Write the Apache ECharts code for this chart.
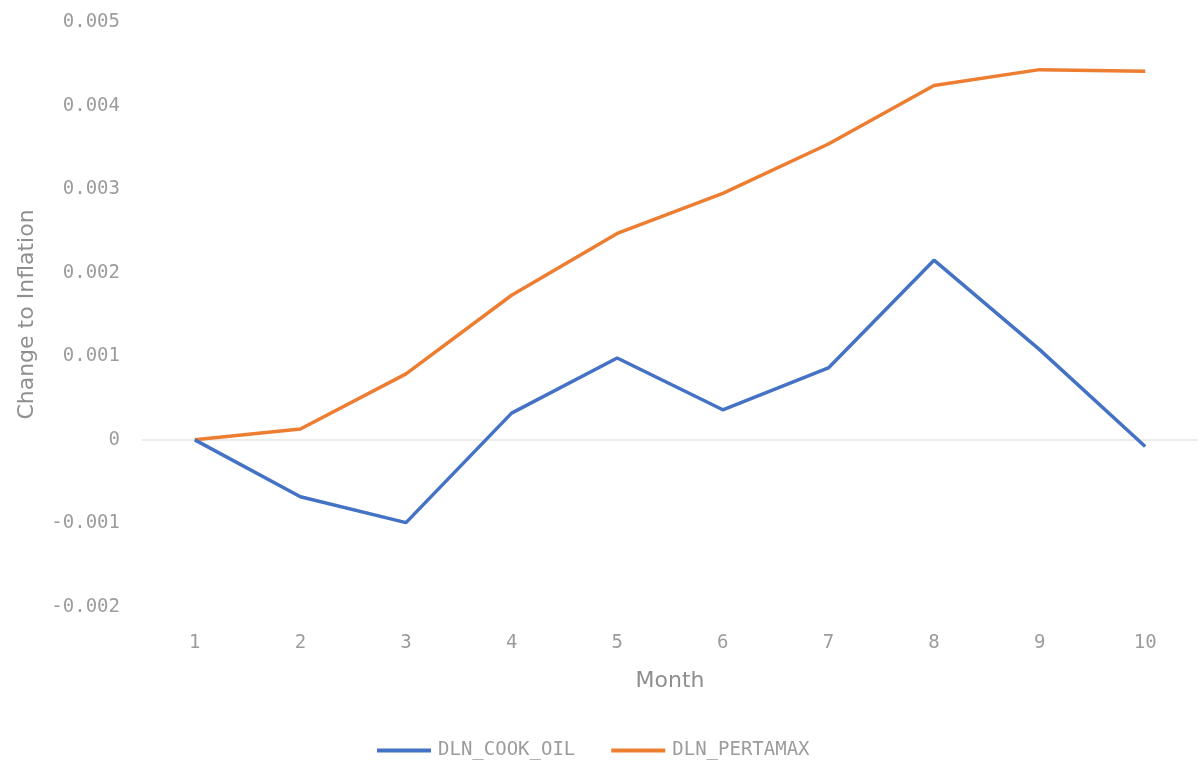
<!DOCTYPE html>
<html>
<head>
<meta charset="utf-8">
<script src="https://cdn.jsdelivr.net/npm/echarts@6/dist/echarts.min.js"></script>
<style>
  html, body { margin: 0; padding: 0; background: #fff; }
  #chart { width: 1204px; height: 771px; }
</style>
</head>
<body>
<div id="chart"></div>
<script>
// Months on the horizontal axis
const months = ['1', '2', '3', '4', '5', '6', '7', '8', '9', '10'];

// Response of inflation to each price shock
const cookOil = [0, -0.00068, -0.00099, 0.00032, 0.00098, 0.00036, 0.00086, 0.00215, 0.00108, -0.00008];
const pertamax = [0, 0.00013, 0.00079, 0.00173, 0.00247, 0.00295, 0.00354, 0.00424, 0.00443, 0.00441];

const seriesNames = ['DLN_COOK_OIL', 'DLN_PERTAMAX'];

const monoFont = '"DejaVu Sans Mono", monospace';
const titleFont = '"DejaVu Sans", sans-serif';
const textGray = '#9c9c9c';
const titleGray = '#8f8f8f';

const chart = echarts.init(document.getElementById('chart'), null, { renderer: 'canvas' });

chart.setOption({
  animation: false,
  backgroundColor: '#ffffff',
  grid: { left: 142, right: 6, top: 22, bottom: 164 },
  legend: {
    bottom: 6,
    left: 372,
    itemWidth: 54,
    itemHeight: 4,
    itemGap: 36,
    icon: 'rect',
    textStyle: { color: textGray, fontSize: 19, fontFamily: monoFont, padding: [0, 0, 0, 2] },
    data: seriesNames
  },
  xAxis: {
    type: 'category',
    data: months,
    boundaryGap: true,
    name: 'Month',
    nameLocation: 'middle',
    nameGap: 63,
    nameTextStyle: { color: titleGray, fontSize: 22, fontFamily: titleFont },
    axisLine: { show: false, onZero: false },
    axisTick: { show: false },
    axisLabel: { color: textGray, fontSize: 19, fontFamily: monoFont, margin: 27 },
    splitLine: { show: false }
  },
  yAxis: {
    type: 'value',
    min: -0.002,
    max: 0.005,
    interval: 0.001,
    name: 'Change to Inflation',
    nameLocation: 'middle',
    nameGap: 104,
    nameTextStyle: { color: titleGray, fontSize: 22, fontFamily: titleFont },
    axisLine: { show: false },
    axisTick: { show: false },
    splitLine: { show: false },
    axisLabel: {
      color: textGray,
      fontSize: 19,
      fontFamily: monoFont,
      margin: 22,
      formatter: v => String(+v.toFixed(3))
    }
  },
  series: [
    {
      name: seriesNames[0],
      type: 'line',
      data: cookOil,
      symbol: 'none',
      lineStyle: { color: '#4472C4', width: 3.5 },
      itemStyle: { color: '#4472C4' },
      z: 3,
      markLine: {
        silent: true,
        symbol: 'none',
        label: { show: false },
        lineStyle: { color: '#e6e6e6', width: 1.5, type: 'solid' },
        data: [{ yAxis: 0 }],
        z: 1
      }
    },
    {
      name: seriesNames[1],
      type: 'line',
      data: pertamax,
      symbol: 'none',
      lineStyle: { color: '#ED7D31', width: 3.5 },
      itemStyle: { color: '#ED7D31' },
      z: 2
    }
  ]
});
</script>
</body>
</html>
